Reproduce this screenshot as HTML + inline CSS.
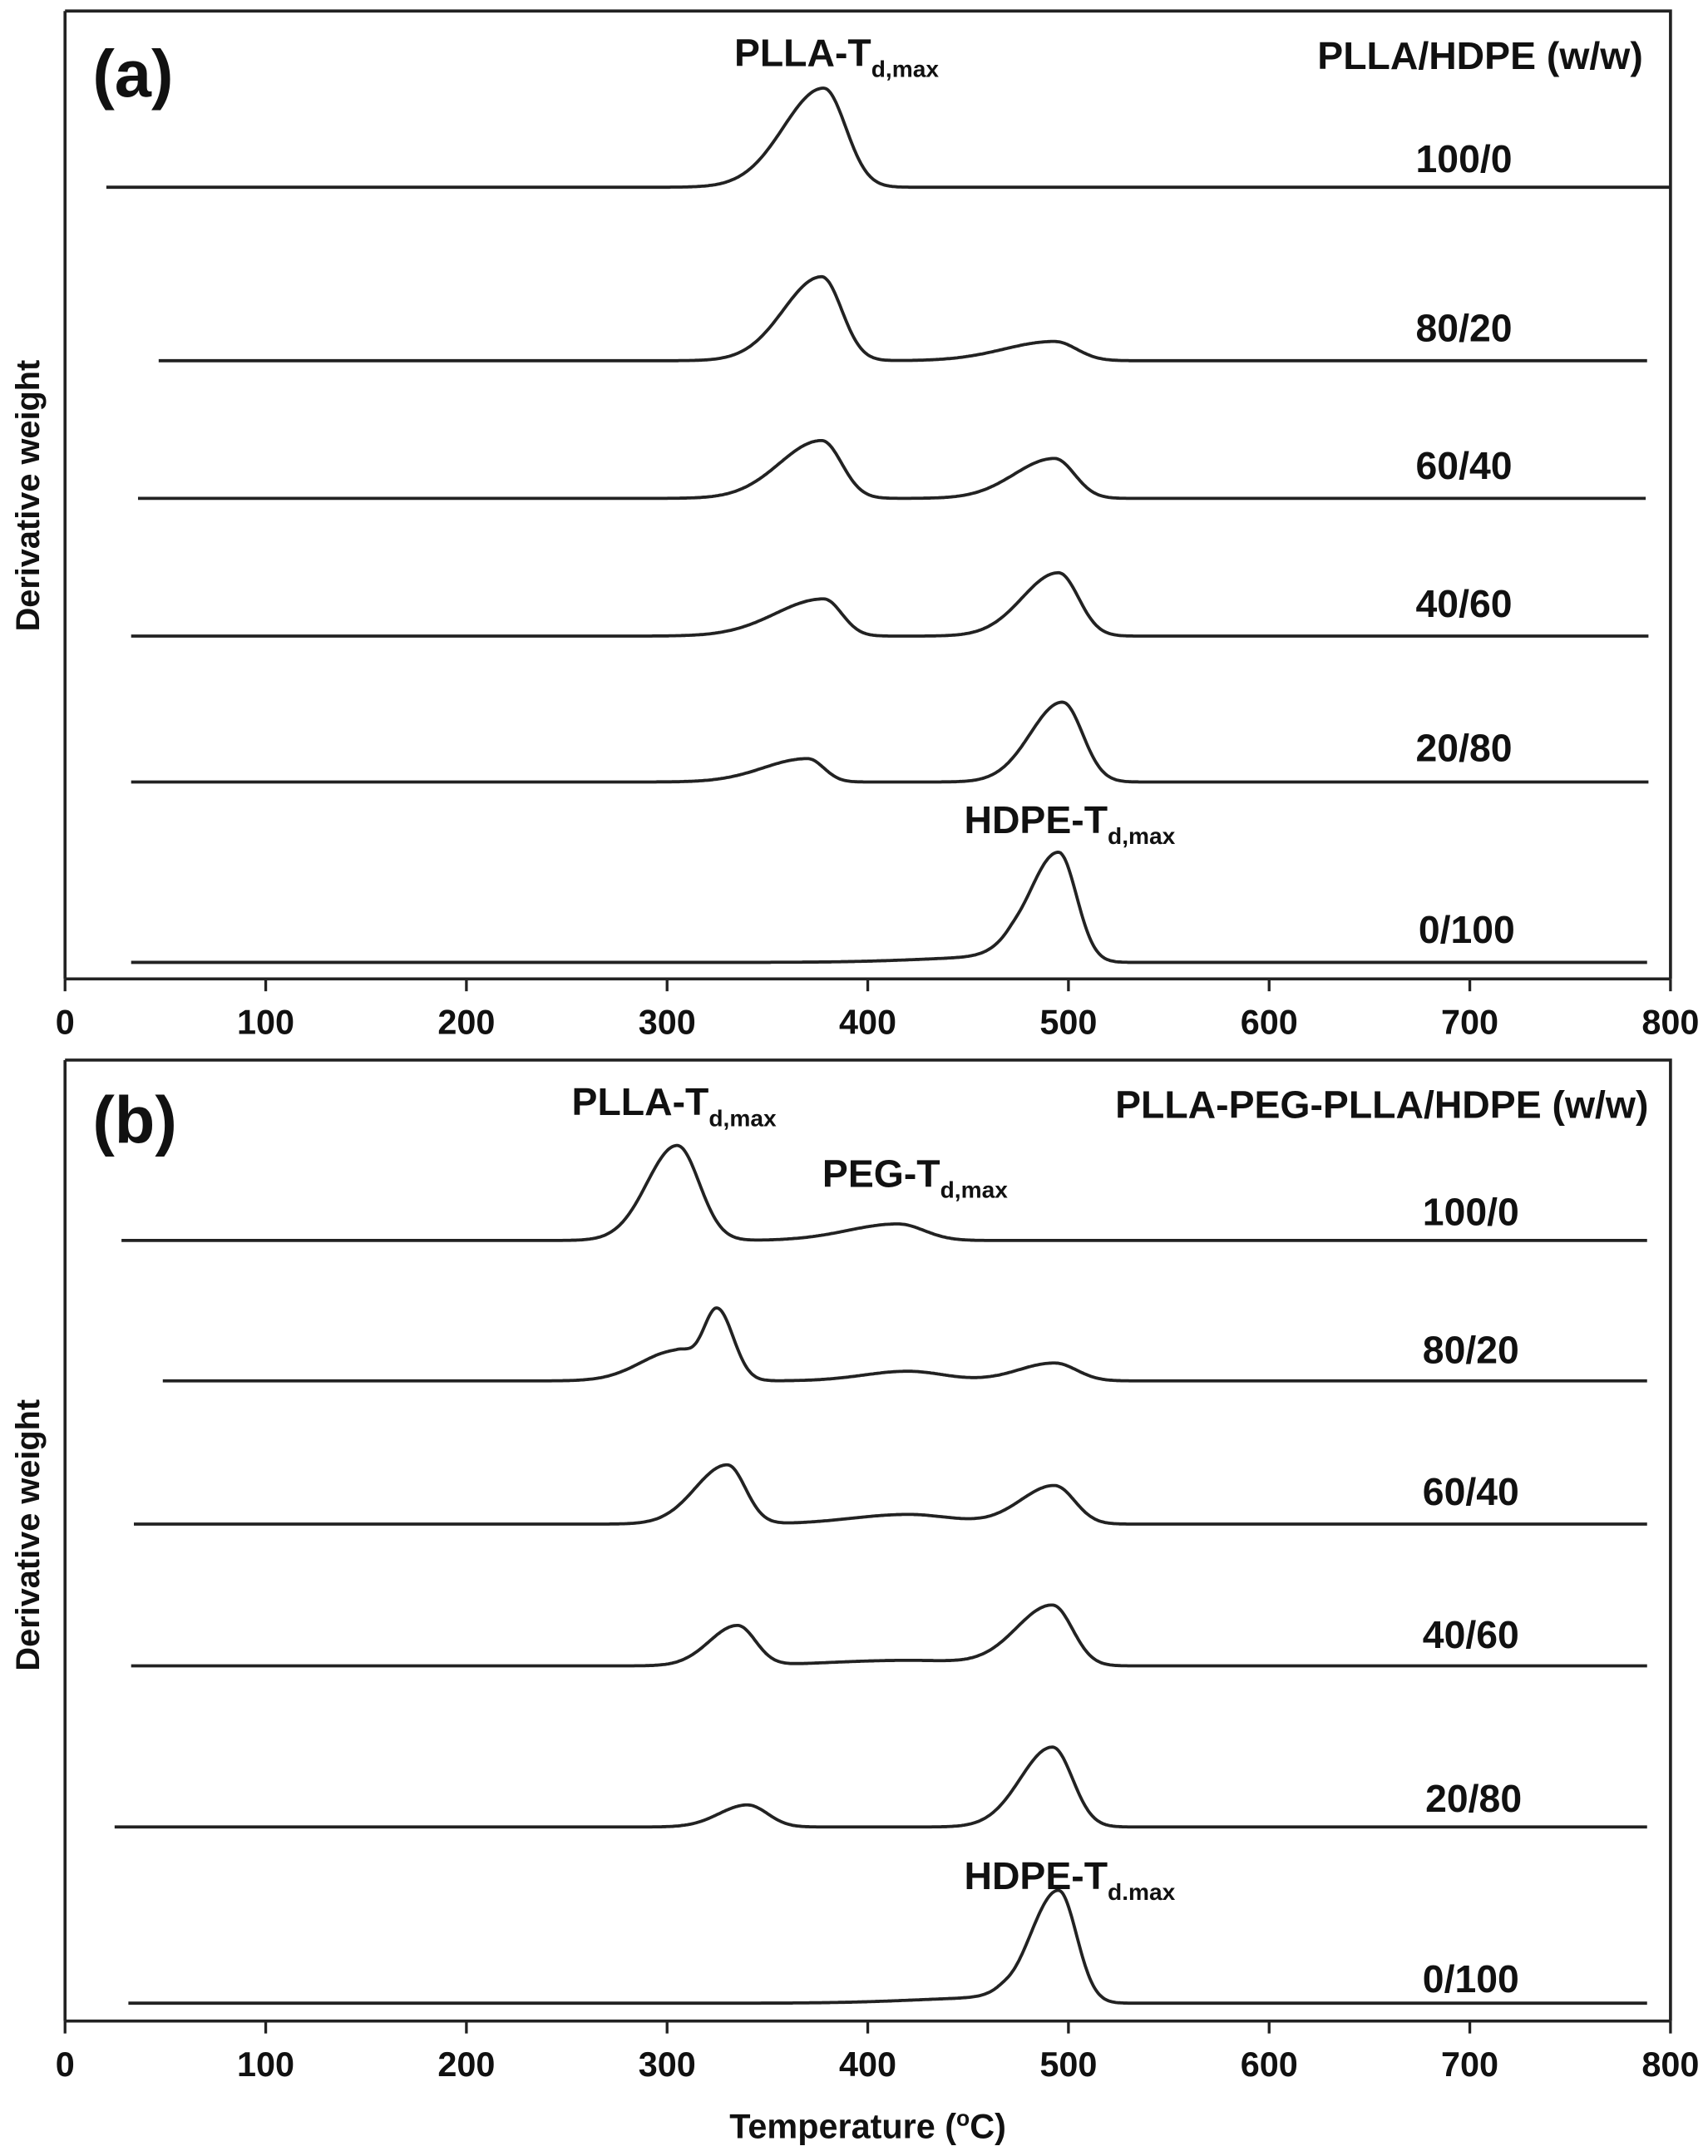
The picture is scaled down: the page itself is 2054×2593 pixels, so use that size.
<!DOCTYPE html>
<html><head><meta charset="utf-8"><style>
html,body{margin:0;padding:0;background:#fff}
svg{display:block}
text{font-family:"Liberation Sans Narrow","Liberation Sans",sans-serif;font-weight:bold;fill:#111}
</style></head><body>
<svg id="s" width="2054" height="2593" viewBox="0 0 1240 1566" xmlns="http://www.w3.org/2000/svg">
<g fill="none" stroke="#222" stroke-width="2.2">
<path d="M47 8 H1213 V711"/><line x1="47" y1="8" x2="47" y2="711"/>
<line x1="47" y1="711" x2="1213" y2="711"/>
<path d="M47 770 H1213 V1468"/><line x1="47" y1="770" x2="47" y2="1468"/>
<line x1="47" y1="1468" x2="1213" y2="1468"/>
</g>
<g id="ticks" stroke="#222" stroke-width="2"></g>
<g id="curves" fill="none" stroke="#222" stroke-width="2.3"></g>
<g id="lbl" font-size="25" text-anchor="middle"></g>
<g font-size="28">
<text x="67" y="70" font-size="48" font-weight="normal" style="font-weight:bold">(a)</text>
<text x="533" y="48">PLLA-T<tspan font-size="17" dy="8">d,max</tspan></text>
<text x="1193" y="50" text-anchor="end">PLLA/HDPE (w/w)</text>
<text x="700" y="605">HDPE-T<tspan font-size="17" dy="8">d,max</tspan></text>
<text x="67" y="830" font-size="48">(b)</text>
<text x="415" y="810">PLLA-T<tspan font-size="17" dy="8">d,max</tspan></text>
<text x="597" y="862">PEG-T<tspan font-size="17" dy="8">d,max</tspan></text>
<text x="1197" y="812" text-anchor="end">PLLA-PEG-PLLA/HDPE (w/w)</text>
<text x="700" y="1372">HDPE-T<tspan font-size="17" dy="8">d.max</tspan></text>
<text x="1063" y="125" text-anchor="middle">100/0</text>
<text x="1063" y="248" text-anchor="middle">80/20</text>
<text x="1063" y="348" text-anchor="middle">60/40</text>
<text x="1063" y="448" text-anchor="middle">40/60</text>
<text x="1063" y="553" text-anchor="middle">20/80</text>
<text x="1065" y="685" text-anchor="middle">0/100</text>
<text x="1068" y="890" text-anchor="middle">100/0</text>
<text x="1068" y="990" text-anchor="middle">80/20</text>
<text x="1068" y="1093" text-anchor="middle">60/40</text>
<text x="1068" y="1197" text-anchor="middle">40/60</text>
<text x="1070" y="1316" text-anchor="middle">20/80</text>
<text x="1068" y="1447" text-anchor="middle">0/100</text>
<text x="630" y="1553" text-anchor="middle" font-family="Liberation Sans" font-size="25">Temperature (<tspan font-size="16" dy="-9">o</tspan><tspan dy="9">C)</tspan></text>
<text transform="translate(28,360) rotate(-90)" text-anchor="middle" font-family="Liberation Sans" font-size="24">Derivative weight</text>
<text transform="translate(28,1115) rotate(-90)" text-anchor="middle" font-family="Liberation Sans" font-size="24">Derivative weight</text>
</g>
</svg>
<script>
const NS="http://www.w3.org/2000/svg";
const X=t=>47+t*1166/800;
const tk=document.getElementById('ticks'),lb=document.getElementById('lbl');
[711,1468].forEach(ay=>{for(let t=0;t<=800;t+=100){
 const l=document.createElementNS(NS,'line');l.setAttribute('x1',X(t));l.setAttribute('x2',X(t));
 l.setAttribute('y1',ay);l.setAttribute('y2',ay+9);tk.appendChild(l);
 const tx=document.createElementNS(NS,'text');tx.setAttribute('x',X(t));tx.setAttribute('y',ay+40);tx.textContent=t;lb.appendChild(tx);}});
function ag(t,c,h,sl,sr){const s=t<c?sl:sr;return h*Math.exp(-0.5*((t-c)/s)**2);}
// each: baseline, x0(px), x1(px), peaks [c,h,sl,sr]
const C=[
[136,77,1213,[[378,72,20,11]]],
[262,115,1196,[[377,61,19,10],[493,14,25,11]]],
[362,100,1195,[[377,42,21,10],[493,29,20,10]]],
[462,95,1197,[[378,27,24,9],[495,46,18,10]]],
[568,95,1197,[[370,17,22,8],[497,58,16,10]]],
[699,95,1196,[[495,80,15,9],[470,4,40,5]]],
[901,88,1196,[[305,69,15,11],[415,12,25,13]]],
[1003,118,1196,[[325,52,7,8],[305,22,18,8],[420,7,22,18],[493,13,18,11]]],
[1107,97,1196,[[330,43,16,9],[420,7,28,22],[493,28,17,10]]],
[1210,95,1196,[[335,29,14,9],[420,4,40,30],[492,44,18,10]]],
[1327,83,1196,[[340,16,14,10],[492,58,16,10]]],
[1455,93,1196,[[495,82,14,9],[465,4,40,5]]]];
const g=document.getElementById('curves');
C.forEach(([b,x0,x1,P])=>{let d='';for(let x=x0;x<=x1;x+=1){const t=(x-47)*800/1166;let y=b;P.forEach(p=>y-=ag(t,...p));d+=(d?'L':'M')+x+' '+y.toFixed(1);}
 const p=document.createElementNS(NS,'path');p.setAttribute('d',d);g.appendChild(p);});
</script>
</body></html>
